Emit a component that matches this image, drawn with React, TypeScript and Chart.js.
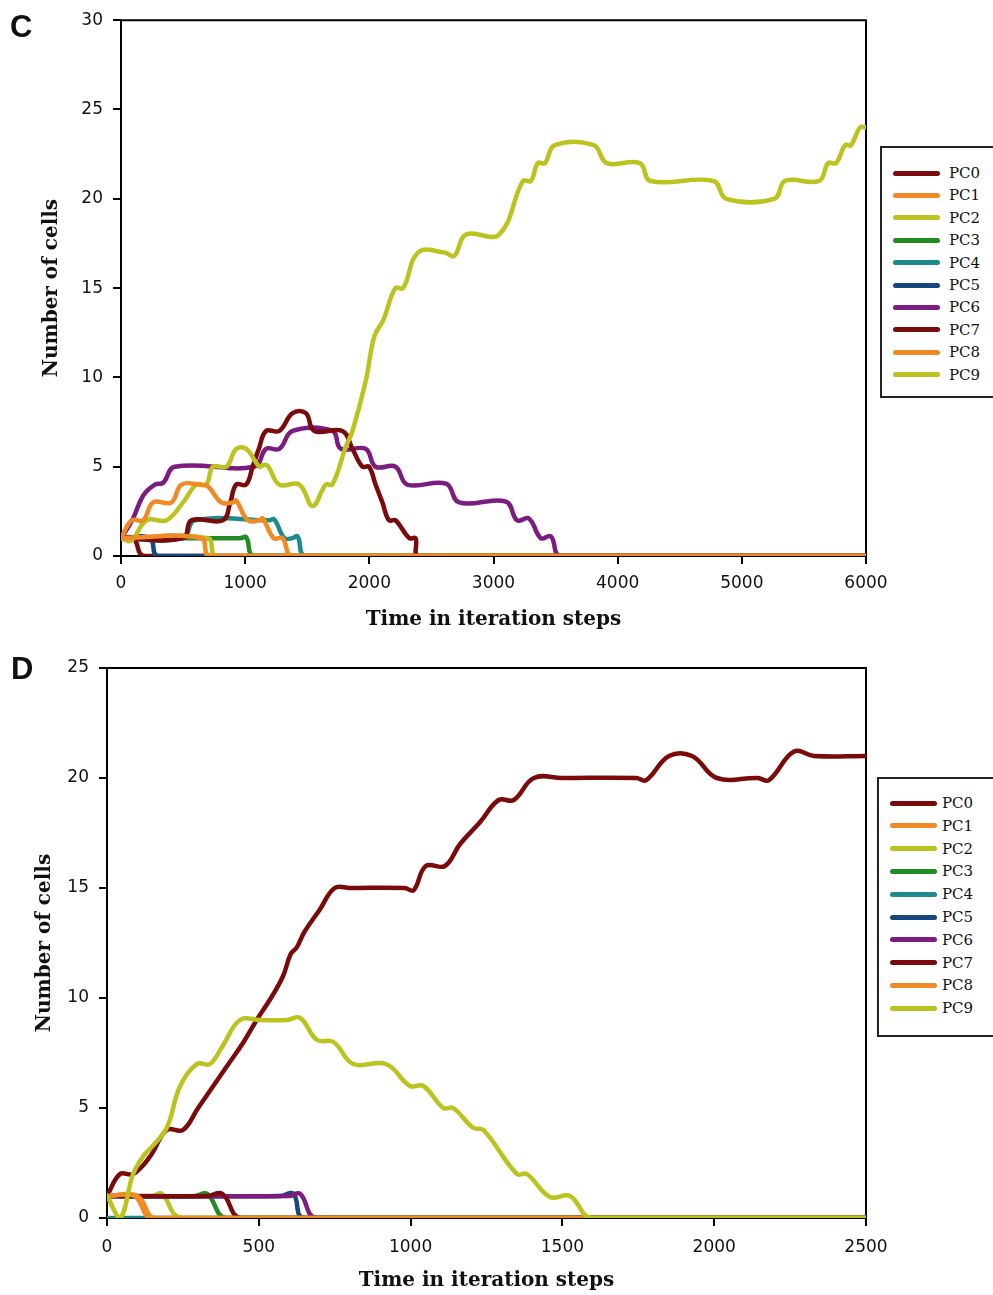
import React, { useEffect, useRef } from "react";
import { Chart, registerables } from "chart.js";

Chart.register(...registerables);

type Pt = [number, number];

// ---------- shared ----------
const SERIES_NAMES = ["PC0", "PC1", "PC2", "PC3", "PC4", "PC5", "PC6", "PC7", "PC8", "PC9"];
const SERIES_COLORS = [
  "#7B0A0A", "#F08A24", "#BCC21E", "#228B22", "#1F8A8E",
  "#17477F", "#7B1C80", "#7B0A0A", "#F08A24", "#BCC21E",
];

// ---------- panel C ----------
const C_X_TICKS = [0, 1000, 2000, 3000, 4000, 5000, 6000];
const C_Y_TICKS = [0, 5, 10, 15, 20, 25, 30];

const C_PC0: Pt[] = [[0, 1], [100, 1], [190, 0], [6000, 0]];
const C_PC1: Pt[] = [[0, 1], [86, 2], [179, 2], [259, 3], [406, 3], [487, 4], [634, 4], [700, 3.9], [807, 3], [901, 3], [928, 3.1], [1021, 2], [1115, 2], [1142, 2.1], [1230, 1], [1300, 1], [1382, 0], [6000, 0]];
const C_PC2: Pt[] = [[0, 1], [700, 1], [767, 0], [6000, 0]];
const C_PC3: Pt[] = [[0, 1], [960, 1], [1008, 1.05], [1075, 0], [6000, 0]];
const C_PC4: Pt[] = [[0, 1], [500, 1], [594, 2], [1195, 2], [1235, 2.05], [1316, 1], [1380, 1], [1422, 1.1], [1489, 0], [6000, 0]];
const C_PC5: Pt[] = [[0, 1], [233, 1], [300, 0], [6000, 0]];
const C_PC6: Pt[] = [[0, 1], [90, 2], [180, 3.4], [273, 4], [340, 4.1], [433, 5], [1075, 5], [1168, 6], [1275, 6], [1382, 7], [1703, 7], [1770, 6], [1970, 6], [2050, 5], [2211, 5], [2305, 4], [2618, 4.05], [2723, 3], [3100, 3.05], [3189, 2], [3285, 2.1], [3381, 1], [3462, 1.1], [3542, 0], [6000, 0]];
const C_PC7: Pt[] = [[0, 1], [500, 1], [567, 2], [821, 2], [880, 3], [928, 4], [1008, 4], [1060, 5], [1110, 6], [1168, 7], [1275, 7], [1382, 8], [1489, 8], [1556, 7], [1783, 7], [1864, 6], [1944, 5], [1997, 5], [2050, 4], [2105, 3], [2158, 2], [2211, 2], [2321, 1], [2372, 1], [2400, 0], [6000, 0]];
const C_PC8: Pt[] = [[0, 1], [647, 1], [714, 0], [6000, 0]];
const C_PC9: Pt[] = [[0, 1], [80, 0.85], [206, 2], [366, 2], [500, 3], [607, 4], [687, 4], [741, 5], [848, 5], [928, 6], [1008, 6], [1115, 5], [1150, 5.1], [1182, 5.05], [1275, 4], [1436, 4], [1543, 2.8], [1650, 4], [1703, 4], [1810, 6.1], [1864, 7], [1971, 9.8], [2040, 12.3], [2112, 13.2], [2209, 15], [2273, 15], [2394, 17], [2602, 17], [2683, 16.8], [2779, 18], [3044, 18], [3237, 21], [3301, 21], [3357, 22], [3414, 22], [3494, 23], [3807, 23], [3912, 22], [4177, 22], [4265, 21], [4771, 21], [4875, 20], [5261, 20], [5349, 21], [5622, 21], [5695, 22], [5759, 22], [5831, 23], [5879, 23], [5952, 24], [6000, 24]];

const C_SERIES = [C_PC0, C_PC1, C_PC2, C_PC3, C_PC4, C_PC5, C_PC6, C_PC7, C_PC8, C_PC9];
const C_STACK = [9, 1, 5, 7, 6, 8, 4, 3, 0, 2];

// ---------- panel D ----------
const D_X_TICKS = [0, 500, 1000, 1500, 2000, 2500];
const D_Y_TICKS = [0, 5, 10, 15, 20, 25];

const D_PC0: Pt[] = [[0, 1], [43, 2], [86, 2], [142, 2.8], [197, 4], [250, 4], [300, 5], [350, 6], [400, 7], [450, 8], [493, 9], [540, 10], [580, 11], [605, 12], [625, 12.3], [650, 13], [700, 14], [750, 15], [800, 15], [980, 15], [1010, 14.9], [1050, 16], [1113, 16], [1163, 17], [1229, 18], [1290, 19], [1340, 19], [1406, 20], [1500, 20], [1743, 20], [1776, 19.9], [1851, 21], [1927, 21], [2009, 20], [2144, 20], [2180, 19.9], [2263, 21.2], [2329, 21], [2500, 21]];
const D_PC1: Pt[] = [[0, 1], [100, 1], [160, 0], [2500, 0]];
const D_PC2: Pt[] = [[0, 1], [150, 1], [180, 1.1], [247, 0], [2500, 0]];
const D_PC3: Pt[] = [[0, 1], [290, 1], [330, 1.1], [395, 0], [2500, 0]];
const D_PC4: Pt[] = [[0, 0], [2500, 0]];
const D_PC5: Pt[] = [[0, 1], [570, 1], [614, 1.1], [650, 0], [2500, 0]];
const D_PC6: Pt[] = [[0, 1], [600, 1], [636, 1.1], [691, 0], [2500, 0]];
const D_PC7: Pt[] = [[0, 1], [330, 1], [380, 1.1], [443, 0], [2500, 0]];
const D_PC8: Pt[] = [[0, 1], [90, 1], [150, 0], [2500, 0]];
const D_PC9: Pt[] = [[0, 1], [43, 0], [86, 2], [119, 2.8], [152, 3.3], [197, 4.1], [241, 6], [296, 7], [339, 7], [380, 7.8], [438, 9], [504, 9], [593, 9], [636, 9.1], [691, 8.1], [746, 8], [811, 7], [919, 7], [998, 6], [1042, 6], [1108, 5], [1140, 5], [1206, 4.1], [1240, 4], [1350, 2], [1383, 2], [1459, 0.95], [1525, 1], [1597, 0], [2500, 0]];

const D_SERIES = [D_PC0, D_PC1, D_PC2, D_PC3, D_PC4, D_PC5, D_PC6, D_PC7, D_PC8, D_PC9];
const D_STACK = [3, 1, 8, 7, 9, 6, 5, 4, 2, 0];

// ---------- chart building ----------
const INK = "#111";
const TICK_FONT = { family: "'DejaVu Sans', sans-serif", size: 17 };
const TITLE_FONT = { family: "'DejaVu Serif', serif", size: 20, weight: "bold" as const };

const framePlugin = {
  id: "frame",
  beforeDatasetsDraw(chart: any) {
    const { ctx, chartArea } = chart;
    const { left, right, top, bottom } = chartArea;
    ctx.save();
    ctx.strokeStyle = "#000";
    ctx.lineWidth = 2;
    ctx.beginPath();
    ctx.moveTo(left - 1, top);
    ctx.lineTo(right, top);
    ctx.lineTo(right, bottom);
    ctx.stroke();
    ctx.restore();
  },
};

interface PanelLayout {
  padTop: number;
  padRight: number;
  yAxisWidth: number;
  xAxisHeight: number;
  xTickPad: number;
  xTitlePadBottom: number;
  yTitlePadTop: number;
}

function buildConfig(series: Pt[][], stack: number[], xTicks: number[], yTicks: number[], lay: PanelLayout): any {
  return {
    type: "line",
    data: {
      datasets: series.map((pts, i) => ({
        label: SERIES_NAMES[i],
        data: pts.map(([x, y]) => ({ x, y })),
        borderColor: SERIES_COLORS[i],
        backgroundColor: SERIES_COLORS[i],
        borderWidth: 4.5,
        pointRadius: 0,
        pointHoverRadius: 0,
        tension: 0.4,
        fill: false,
        order: stack[i],
        borderCapStyle: "round",
        borderJoinStyle: "round",
      })),
    },
    options: {
      responsive: false,
      animation: false,
      devicePixelRatio: 1,
      events: [],
      layout: { padding: { top: lay.padTop, right: lay.padRight, left: 0, bottom: 0 } },
      plugins: { legend: { display: false }, tooltip: { enabled: false } },
      scales: {
        x: {
          type: "linear",
          min: xTicks[0],
          max: xTicks[xTicks.length - 1],
          afterBuildTicks: (s: any) => {
            s.ticks = xTicks.map((v) => ({ value: v }));
          },
          afterFit: (s: any) => {
            s.height = lay.xAxisHeight;
          },
          ticks: {
            autoSkip: false,
            maxRotation: 0,
            padding: lay.xTickPad,
            color: INK,
            font: TICK_FONT,
            callback: (v: any) => String(v),
          },
          grid: { display: true, drawOnChartArea: false, drawTicks: true, tickLength: 8, color: "#000", lineWidth: 2 },
          border: { display: true, color: "#000", width: 2 },
          title: {
            display: true,
            text: "Time in iteration steps",
            color: INK,
            font: TITLE_FONT,
            padding: { top: 0, bottom: lay.xTitlePadBottom },
          },
        },
        y: {
          type: "linear",
          min: yTicks[0],
          max: yTicks[yTicks.length - 1],
          afterBuildTicks: (s: any) => {
            s.ticks = yTicks.map((v) => ({ value: v }));
          },
          afterFit: (s: any) => {
            s.width = lay.yAxisWidth;
          },
          ticks: {
            padding: 10,
            color: INK,
            font: TICK_FONT,
            callback: (v: any) => String(v),
          },
          grid: { display: true, drawOnChartArea: false, drawTicks: true, tickLength: 8, color: "#000", lineWidth: 2 },
          border: { display: true, color: "#000", width: 2 },
          title: {
            display: true,
            text: "Number of cells",
            color: INK,
            font: TITLE_FONT,
            padding: { top: lay.yTitlePadTop, bottom: 0 },
          },
        },
      },
    },
    plugins: [framePlugin],
  };
}

function ChartCanvas({ top, width, height, makeConfig }: { top: number; width: number; height: number; makeConfig: () => any }) {
  const ref = useRef<HTMLCanvasElement>(null);
  useEffect(() => {
    const chart = new Chart(ref.current as HTMLCanvasElement, makeConfig());
    return () => chart.destroy();
  }, []);
  return (
    <canvas
      ref={ref}
      width={width}
      height={height}
      style={{ position: "absolute", left: 0, top, width, height, display: "block" }}
    />
  );
}

function Legend({ left, top, height, firstRow, rowGap, lineLeft, textLeft }: { left: number; top: number; height: number; firstRow: number; rowGap: number; lineLeft: number; textLeft: number }) {
  return (
    <div
      style={{
        position: "absolute",
        left,
        top,
        width: 200,
        height,
        border: "2px solid #222",
        boxSizing: "border-box",
        background: "#fff",
      }}
    >
      {SERIES_NAMES.map((n, i) => (
        <React.Fragment key={n}>
          <div
            style={{
              position: "absolute",
              left: lineLeft,
              top: firstRow + i * rowGap - 2.5,
              width: 47,
              height: 5,
              borderRadius: 3,
              background: SERIES_COLORS[i],
            }}
          />
          <div
            style={{
              position: "absolute",
              left: textLeft,
              top: firstRow + i * rowGap - 10,
              height: 20,
              lineHeight: "20px",
              fontFamily: "'DejaVu Serif', serif",
              fontSize: 15,
              color: INK,
              whiteSpace: "nowrap",
            }}
          >
            {n}
          </div>
        </React.Fragment>
      ))}
    </div>
  );
}

const PANEL_C_LAYOUT: PanelLayout = { padTop: 20, padRight: 127, yAxisWidth: 121, xAxisHeight: 84, xTickPad: 9, xTitlePadBottom: 8, yTitlePadTop: 40 };
const PANEL_D_LAYOUT: PanelLayout = { padTop: 28, padRight: 127, yAxisWidth: 107, xAxisHeight: 77, xTickPad: 11, xTitlePadBottom: 2, yTitlePadTop: 33 };

export default function App() {
  const letterStyle: React.CSSProperties = {
    position: "absolute",
    fontFamily: "'Liberation Sans', Arial, sans-serif",
    fontWeight: "bold",
    fontSize: 31,
    lineHeight: "31px",
    color: "#111",
  };
  return (
    <div
      style={{
        position: "absolute",
        left: 0,
        top: 0,
        width: 993,
        height: 1295,
        overflow: "hidden",
        background: "#fff",
      }}
    >
      <ChartCanvas top={0} width={993} height={640} makeConfig={() => buildConfig(C_SERIES, C_STACK, C_X_TICKS, C_Y_TICKS, PANEL_C_LAYOUT)} />
      <ChartCanvas top={640} width={993} height={655} makeConfig={() => buildConfig(D_SERIES, D_STACK, D_X_TICKS, D_Y_TICKS, PANEL_D_LAYOUT)} />
      <div style={{ ...letterStyle, left: 10, top: 11 }}>C</div>
      <div style={{ ...letterStyle, left: 11, top: 653 }}>D</div>
      <Legend left={880} top={146} height={252} firstRow={25} rowGap={22.4} lineLeft={11} textLeft={67} />
      <Legend left={877} top={777} height={260} firstRow={24} rowGap={22.8} lineLeft={11} textLeft={63} />
    </div>
  );
}
